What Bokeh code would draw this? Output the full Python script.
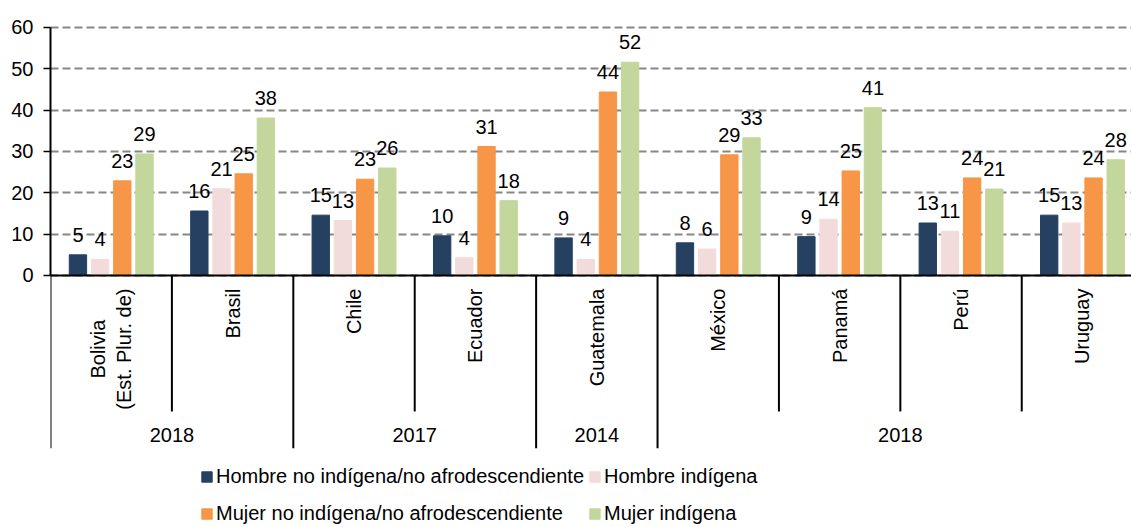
import numpy as np
from bokeh.plotting import figure
from bokeh.models import (Range1d, FixedTicker, ColumnDataSource, Legend,
                          LegendItem, Span)
from bokeh.core.properties import value
from bokeh.embed import file_html
from bokeh.resources import INLINE

# ---------------- data ----------------
countries = ["Bolivia\n(Est. Plur. de)", "Brasil", "Chile", "Ecuador",
             "Guatemala", "México", "Panamá", "Perú", "Uruguay"]
years = ["2018", "2018", "2017", "2017", "2014", "2018", "2018", "2018", "2018"]
series_names = ["Hombre no indígena/no afrodescendiente", "Hombre indígena",
                "Mujer no indígena/no afrodescendiente", "Mujer indígena"]
hombre_no_ind = [5.0, 15.6, 14.6, 9.6, 9.1, 7.9, 9.4, 12.7, 14.6]
hombre_ind = [3.9, 21.0, 13.3, 4.3, 3.9, 6.4, 13.6, 10.7, 12.7]
mujer_no_ind = [22.9, 24.6, 23.3, 31.2, 44.4, 29.2, 25.3, 23.6, 23.6]
mujer_ind = [29.4, 38.1, 26.0, 18.1, 51.6, 33.3, 40.6, 20.9, 28.0]
y_ticks = [0, 10, 20, 30, 40, 50, 60]

series = [hombre_no_ind, hombre_ind, mujer_no_ind, mujer_ind]
colors = ["#254061", "#F2DCDB", "#F79646", "#C3D69B"]

# ---------------- style / layout ----------------
FONT = "Liberation Sans"
FS = "20px"
offsets = [-0.274, -0.0915, 0.0915, 0.274]
bar_w = 0.143
short_sep = -32.9
long_sep = -41.8
country_label_y = -3.15
year_label_y = -38.7

p = figure(width=1131, height=527, output_backend="svg", toolbar_location=None,
           x_range=Range1d(0, 8.904), y_range=Range1d(-60.97, 66.53),
           x_axis_location=None, y_axis_location="left",
           min_border_left=50, min_border_right=0, min_border_top=0,
           min_border_bottom=0)
p.outline_line_color = None
p.background_fill_color = "white"

# y axis
ax = p.yaxis[0]
ax.ticker = FixedTicker(ticks=y_ticks)
ax.bounds = (0, 60)
ax.axis_line_width = 2
ax.axis_line_color = "black"
ax.major_tick_out = 7
ax.major_tick_in = 0
ax.major_tick_line_width = 1.5
ax.major_tick_line_color = "black"
ax.minor_tick_line_color = None
ax.major_label_standoff = 10
ax.major_label_text_font = FONT
ax.major_label_text_font_size = FS
ax.major_label_text_color = "black"

p.ygrid.ticker = FixedTicker(ticks=y_ticks)
p.ygrid.grid_line_dash = "8 4"
p.ygrid.grid_line_color = "#868686"
p.ygrid.grid_line_width = 2
p.xgrid.grid_line_color = None

n = len(countries)
centers = np.arange(n) + 0.5

renderers = []
for vals, off, col in zip(series, offsets, colors):
    src = ColumnDataSource(dict(x=centers + off, top=vals,
                                lbl=[str(int(round(v))) for v in vals]))
    r = p.vbar(x="x", top="top", width=bar_w, source=src, fill_color=col,
               line_color=col)
    renderers.append(r)
    p.text(x="x", y="top", text="lbl", source=src, text_align="center",
           text_baseline="middle", y_offset=-20, text_font=value(FONT),
           text_font_size=value(FS), text_color="black")

# baseline
p.add_layout(Span(location=0, dimension="width", line_color="black",
                  line_width=2))

# category separators
sx, sy0, sy1 = [], [], []
for b in range(n + 1):
    is_long = b == 0 or b == n or years[b - 1] != years[b]
    sx.append(b)
    sy0.append(0)
    sy1.append(long_sep if is_long else short_sep)
p.segment(x0=sx, y0=sy0, x1=sx, y1=sy1, line_color="black", line_width=2)

# country labels (rotated, lines centred on each other)
p.text(x=list(centers), y=[country_label_y] * n, text=countries,
       angle=np.pi / 2, anchor=value("center_right"), text_align="center",
       text_baseline="middle",
       text_font=value(FONT), text_font_size=value(FS), text_color="black",
       text_line_height=1.2)

# year labels
yl_x, yl_t = [], []
start = 0
for i in range(1, n + 1):
    if i == n or years[i] != years[start]:
        yl_x.append((start + i) / 2)
        yl_t.append(years[start])
        start = i
p.text(x=yl_x, y=[year_label_y] * len(yl_x), text=yl_t, text_align="center",
       text_baseline="middle", text_font=value(FONT), text_font_size=value(FS),
       text_color="black")

legend = Legend(items=[LegendItem(label=nm, renderers=[r])
                       for nm, r in zip(series_names, renderers)],
                location=(150, -3), orientation="horizontal", ncols=2,
                padding=0, margin=0, spacing=4, glyph_width=13,
                glyph_height=13, label_standoff=3, label_height=33,
                label_text_font=FONT, label_text_font_size=FS,
                label_text_color="black", border_line_color=None,
                background_fill_alpha=0)
p.add_layout(legend)

open("out.html", "w").write(file_html(p, INLINE))
